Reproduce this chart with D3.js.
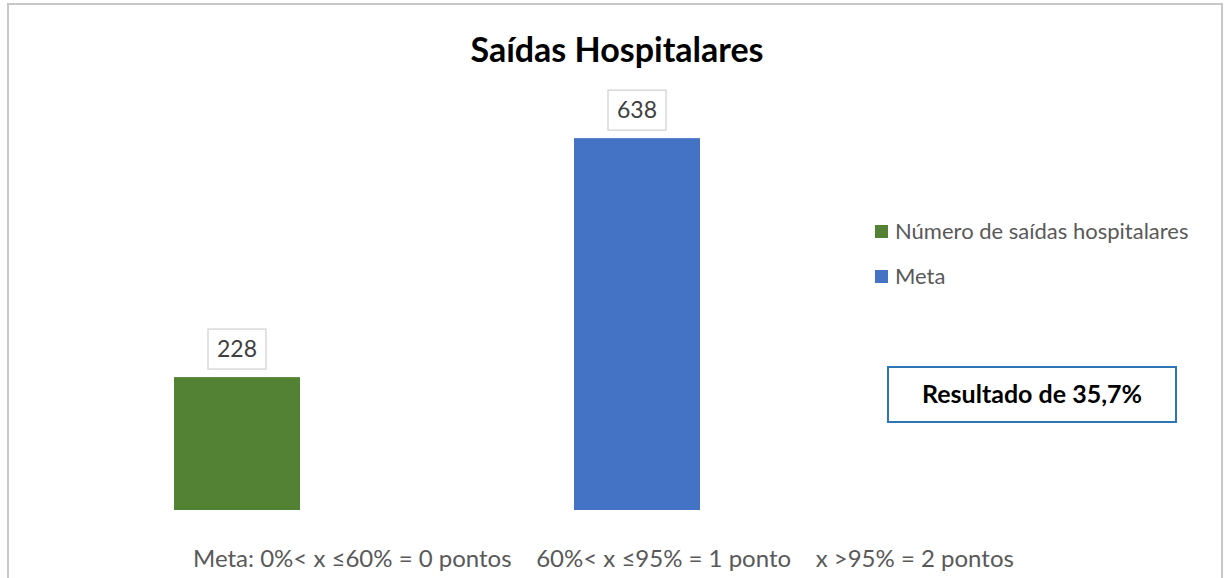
<!DOCTYPE html>
<html>
<head>
<meta charset="utf-8">
<script src="https://cdn.jsdelivr.net/npm/d3@7"></script>
<style>
  html, body { margin: 0; padding: 0; background: #fff; }
  svg { display: block; }
</style>
</head>
<body>
<svg id="chart" width="1224" height="578"></svg>
<script>
const categories = ["Número de saídas hospitalares", "Meta"];
const values = [228, 638];
const colors = ["#548235", "#4472c4"];
const title = "Saídas Hospitalares";
const resultText = "Resultado de 35,7%";
const footText = "Meta: 0%< x \u226460% = 0 pontos    60%< x \u226495% = 1 ponto    x >95% = 2 pontos";

const width = 1224, height = 578;
const svg = d3.select("#chart");
const font = "Lato, 'Open Sans', sans-serif";

// outer frame
svg.append("rect")
  .attr("x", 8).attr("y", 4)
  .attr("width", 1214).attr("height", 600)
  .attr("fill", "#fff")
  .attr("stroke", "#c8c8c8")
  .attr("stroke-width", 2);

svg.append("text")
  .attr("x", 617).attr("y", 62)
  .attr("text-anchor", "middle")
  .attr("font-family", font)
  .attr("font-weight", "bold")
  .attr("font-size", 34)
  .attr("fill", "#000")
  .text(title);

const x = d3.scaleBand()
  .domain(categories)
  .range([37, 837])
  .paddingInner(0.685)
  .paddingOuter(0.3425);

const y = d3.scaleLinear()
  .domain([0, 700])
  .range([510, 102]);

const g = svg.append("g");

g.selectAll(".bar")
  .data(values)
  .join("rect")
  .attr("class", "bar")
  .attr("x", (d, i) => x(categories[i]))
  .attr("y", d => y(d))
  .attr("width", x.bandwidth())
  .attr("height", d => y(0) - y(d))
  .attr("fill", (d, i) => colors[i]);

// data labels with light boxes
const lab = g.selectAll(".lab")
  .data(values)
  .join("g")
  .attr("class", "lab")
  .attr("transform", (d, i) => `translate(${x(categories[i]) + x.bandwidth() / 2},${y(d) - 28})`);

lab.append("rect")
  .attr("x", -29).attr("y", -20)
  .attr("width", 58).attr("height", 40)
  .attr("fill", "#fff")
  .attr("stroke", "#d9d9d9")
  .attr("stroke-width", 1.5);

lab.append("text")
  .attr("text-anchor", "middle")
  .attr("y", 8)
  .attr("font-family", font)
  .attr("font-size", 23)
  .attr("fill", "#404040")
  .text(d => d);

// legend
const leg = svg.append("g")
  .selectAll("g")
  .data(categories)
  .join("g")
  .attr("transform", (d, i) => `translate(875,${225 + i * 45})`);

leg.append("rect")
  .attr("width", 13).attr("height", 13)
  .attr("fill", (d, i) => colors[i]);

leg.append("text")
  .attr("x", 20).attr("y", 14)
  .attr("font-family", font)
  .attr("font-size", 22)
  .attr("fill", "#595959")
  .text(d => d);

// result box
svg.append("rect")
  .attr("x", 888).attr("y", 367)
  .attr("width", 288).attr("height", 55)
  .attr("fill", "#fff")
  .attr("stroke", "#2e75b6")
  .attr("stroke-width", 2);

svg.append("text")
  .attr("x", 1032).attr("y", 403)
  .attr("text-anchor", "middle")
  .attr("font-family", font)
  .attr("font-weight", "bold")
  .attr("font-size", 25)
  .attr("fill", "#000")
  .text(resultText);

svg.append("text")
  .attr("x", 193).attr("y", 567)
  .attr("font-family", font)
  .attr("font-size", 24)
  .attr("fill", "#595959")
  .style("white-space", "pre")
  .attr("xml:space", "preserve")
  .text(footText);
</script>
</body>
</html>
